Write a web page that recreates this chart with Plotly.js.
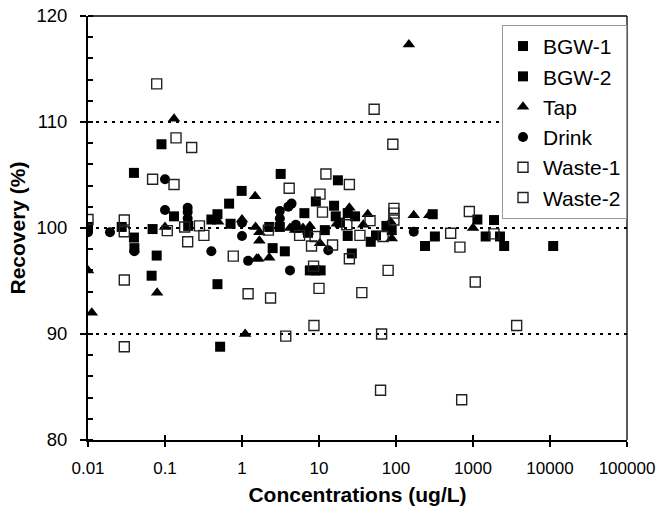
<!DOCTYPE html>
<html>
<head>
<meta charset="utf-8">
<script src="https://cdn.plot.ly/plotly-3.0.1.min.js"></script>
<style>html,body{margin:0;padding:0;background:#fff;}#chart{width:656px;height:513px;}</style>
</head>
<body>
<div id="chart"></div>
<script>
// ---- data ----
const seriesNames = ["BGW-1", "BGW-2", "Tap", "Drink", "Waste-1", "Waste-2"];

const bgw1X = [0.01, 0.0395, 0.04, 0.069, 0.09, 0.2, 0.48, 0.52, 0.71, 2.26, 3.1, 3.6, 7.2, 9.0, 9.1, 15.7, 17.6, 23.6, 26.7, 47, 75, 238, 320, 1460, 2240, 11000];
const bgw1Y = [100.1, 105.2, 98.1, 99.9, 107.9, 100.2, 101.3, 88.8, 100.4, 100.1, 100.1, 97.8, 99.55, 96.0, 102.5, 102.1, 104.5, 101.4, 97.6, 98.7, 100.2, 98.3, 99.2, 99.2, 99.2, 98.3];

const bgw2X = [0.0274, 0.0395, 0.067, 0.078, 0.131, 0.40, 0.48, 0.68, 0.99, 2.5, 3.18, 6.46, 7.6, 10.5, 11.9, 16.5, 18.7, 23.6, 29.4, 55, 88, 300, 1140, 1875, 2540];
const bgw2Y = [100.1, 99.1, 95.5, 97.4, 101.1, 100.8, 94.7, 102.3, 103.5, 98.1, 105.1, 101.4, 96.0, 96.0, 99.8, 101.1, 100.5, 99.25, 101.1, 99.3, 99.8, 101.3, 100.8, 100.75, 98.3];

const tapX = [0.01, 0.0112, 0.079, 0.1, 0.131, 0.49, 1.0, 1.1, 1.48, 1.5, 1.55, 1.68, 1.68, 1.63, 2.26, 4.2, 4.9, 5.6, 6.2, 7.2, 7.6, 10.3, 17, 24.8, 37.6, 43, 80, 85, 88, 147, 170, 270, 1000];
const tapY = [96.0, 92.0, 93.9, 100.1, 110.3, 100.6, 100.8, 90.0, 103.0, 100.1, 97.1, 99.6, 98.8, 97.1, 97.2, 100.0, 99.8, 99.8, 100.0, 99.65, 100.2, 98.55, 100.4, 101.9, 100.3, 101.3, 100.1, 100.6, 99.0, 117.3, 101.2, 101.2, 100.0];

const drinkX = [0.01, 0.0193, 0.04, 0.1, 0.1, 0.197, 0.197, 0.197, 0.40, 1.0, 1.0, 1.2, 3.1, 3.1, 4.0, 4.4, 4.2, 5.0, 13.2, 170];
const drinkY = [99.6, 99.6, 97.8, 104.6, 101.7, 101.9, 101.5, 100.9, 97.8, 100.5, 99.25, 96.9, 101.6, 100.9, 102.0, 102.3, 96.0, 100.3, 97.9, 99.65];

const waste1X = [0.01, 0.0296, 0.0296, 0.078, 0.139, 0.18, 0.197, 0.32, 1.2, 3.7, 5.6, 8.5, 8.9, 10.3, 12.3, 23, 24.8, 36, 52, 65, 79, 94, 513, 713, 1070, 3690];
const waste1Y = [100.8, 100.75, 95.1, 113.6, 108.5, 100.1, 98.7, 99.3, 93.8, 89.8, 99.3, 96.4, 99.2, 103.2, 105.1, 100.3, 104.1, 93.9, 111.2, 90.0, 96.0, 101.85, 99.5, 83.8, 94.9, 90.8];

const waste2X = [0.0296, 0.0296, 0.069, 0.107, 0.131, 0.222, 0.28, 0.77, 2.2, 2.35, 4.1, 8.0, 8.6, 10, 11.1, 15, 24.8, 34, 46, 63, 68, 91, 94, 94, 676, 896, 1875];
const waste2Y = [99.65, 88.8, 104.6, 99.75, 104.1, 107.6, 100.2, 97.35, 99.8, 93.4, 103.75, 98.3, 90.8, 94.3, 101.5, 98.4, 97.1, 99.3, 100.7, 84.7, 99.2, 107.9, 101.4, 100.75, 98.2, 101.55, 99.45];

const xTickVals = [0.01, 0.1, 1, 10, 100, 1000, 10000, 100000];
const xTickText = ["0.01", "0.1", "1", "10", "100", "1000", "10000", "100000"];
const refLines = [90, 100, 110];

// ---- chart ----
const FONT = "Arial, 'Liberation Sans', sans-serif";
const filledSq = {symbol: "square", size: 10, color: "#000"};
const openSq = {symbol: "square-open", size: 10, color: "#222", line: {width: 1.4, color: "#222"}};

function mk(name, x, y, marker) {
  return {type: "scatter", mode: "markers", name: name, x: x, y: y,
          marker: marker, legendgroup: name, xaxis: "x", yaxis: "y"};
}

const traces = [
  mk(seriesNames[0], bgw1X, bgw1Y, filledSq),
  mk(seriesNames[1], bgw2X, bgw2Y, filledSq),
  mk(seriesNames[2], tapX, tapY, {symbol: "triangle-up", size: 11, color: "#000"}),
  mk(seriesNames[3], drinkX, drinkY, {symbol: "circle", size: 10, color: "#000"}),
  mk(seriesNames[4], waste1X, waste1Y, openSq),
  mk(seriesNames[5], waste2X, waste2Y, openSq)
];

const shapes = refLines.map(v => ({
  type: "line", xref: "paper", yref: "y", x0: 0, x1: 1, y0: v, y1: v,
  line: {color: "#000", width: 2, dash: "3px,5px"}, layer: "below"
}));
// top and right frame
shapes.push({type: "line", xref: "paper", yref: "paper", x0: 0, x1: 1, y0: 1, y1: 1, line: {color: "#000", width: 1.3}});
shapes.push({type: "line", xref: "paper", yref: "paper", x0: 1, x1: 1, y0: 0, y1: 1, line: {color: "#000", width: 1.3}});

const layout = {
  width: 656, height: 513,
  margin: {l: 88, r: 29, t: 16, b: 73},
  paper_bgcolor: "#fff", plot_bgcolor: "#fff",
  font: {family: FONT, color: "#000", size: 18},
  showlegend: true,
  legend: {
    x: 1, xanchor: "right", y: 0.979, yanchor: "top",
    bgcolor: "#fff", bordercolor: "#999", borderwidth: 1,
    font: {family: FONT, size: 21, color: "#000"},
    traceorder: "grouped", tracegroupgap: 0, itemwidth: 30
  },
  xaxis: {
    type: "log", range: [-2, 5],
    tickvals: xTickVals, ticktext: xTickText,
    showgrid: false, zeroline: false,
    showline: true, linecolor: "#000", linewidth: 2,
    ticks: "outside", ticklen: 5, tickwidth: 2, tickcolor: "#000",
    tickfont: {family: FONT, size: 17}, ticklabelstandoff: 7,
    ticklabeloverflow: "allow",
    title: {text: "<b>Concentrations (ug/L)</b>", font: {family: FONT, size: 21}, standoff: 10}
  },
  xaxis2: {
    type: "log", range: [-2, 5], overlaying: "x", anchor: "y",
    tickvals: xTickVals, showticklabels: false,
    showgrid: false, zeroline: false, showline: false,
    ticks: "inside", ticklen: 5, tickwidth: 2, tickcolor: "#000"
  },
  yaxis: {
    range: [80, 120], dtick: 10, tick0: 80,
    showgrid: false, zeroline: false,
    showline: true, linecolor: "#000", linewidth: 2,
    ticks: "outside", ticklen: 6, tickwidth: 2, tickcolor: "#000",
    minor: {dtick: 2, ticks: "inside", ticklen: 5, tickwidth: 2, tickcolor: "#000", showgrid: false},
    tickfont: {family: FONT, size: 18.5}, ticklabelstandoff: 9,
    title: {text: "<b>Recovery (%)</b>", font: {family: FONT, size: 21}, standoff: 5}
  },
  shapes: shapes
};

// dummy trace to activate xaxis2 for crossing tick marks
traces.push({type: "scatter", mode: "markers", x: [1], y: [null], xaxis: "x2", yaxis: "y",
             showlegend: false, hoverinfo: "skip", marker: {opacity: 0}});

Plotly.newPlot("chart", traces, layout, {staticPlot: true, displayModeBar: false});
</script>
</body>
</html>
